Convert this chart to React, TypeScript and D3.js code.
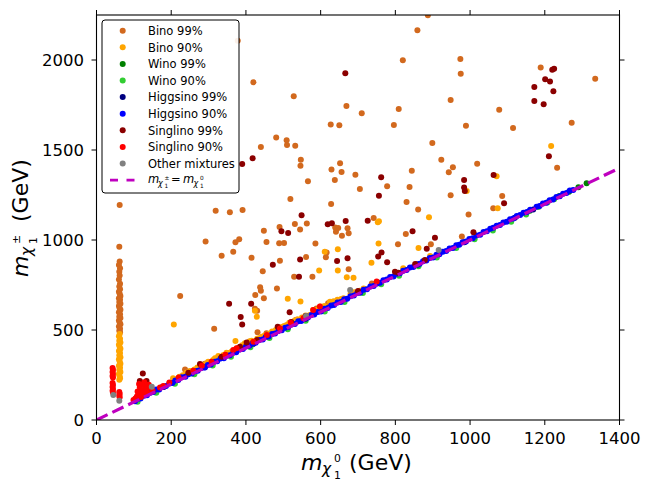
import React from 'react';
import * as d3 from 'd3';

type P = [number, number];

const xTicks = [0, 200, 400, 600, 800, 1000, 1200, 1400];
const yTicks = [0, 500, 1000, 1500, 2000];

const bino99: P[] = [
  [887, 2248], [859, 2165], [420, 1876], [820, 1998], [974, 2005], [975, 1924], [528, 1798], [669, 1744],
  [710, 1704], [809, 1728], [948, 1778], [1078, 1724], [1189, 1959], [1335, 1896], [1272, 1652], [627, 1641],
  [650, 1637], [796, 1639], [989, 1635], [1115, 1622], [481, 1570], [509, 1554], [510, 1528], [532, 1524],
  [440, 1517], [899, 1539], [547, 1446], [546, 1413], [652, 1426], [629, 1391], [656, 1378], [638, 1333],
  [566, 1326], [693, 1363], [705, 1283], [778, 1298], [844, 1385], [838, 1294], [923, 1446], [954, 1404],
  [943, 1376], [1019, 1424], [948, 1248], [1086, 1244], [1233, 1402], [519, 1228], [378, 2107],
  [628, 1200], [830, 1211], [861, 1170], [996, 1141], [1062, 1176], [319, 1163], [357, 1154], [391, 1167],
  [490, 1072], [531, 1089], [563, 1091], [545, 1059], [448, 1052], [292, 991], [372, 987], [382, 1004],
  [455, 989], [489, 982], [502, 983], [586, 980], [639, 1070], [647, 1067], [672, 1065], [675, 1037],
  [641, 1046], [657, 1024], [742, 1122], [335, 913], [366, 935], [415, 902], [491, 885], [561, 906],
  [614, 904], [445, 826], [529, 796], [578, 796], [675, 837], [616, 930], [483, 730], [438, 737],
  [440, 718], [425, 694], [448, 676], [424, 618], [430, 607], [315, 507], [807, 976], [828, 1033],
  [895, 976], [978, 1019], [224, 689], [533, 556], [589, 620], [237, 281], [431, 487], [737, 759],
  [290, 312], [455, 482], [620, 648], [150, 168],
  // column near the Higgs funnel
  [62, 1194], [61, 963], [62, 880], [60, 861], [63, 843], [61, 824], [62, 803], [60, 781], [63, 757],
  [61, 741], [63, 726], [60, 713], [62, 702], [64, 689], [60, 677], [63, 668], [61, 655], [64, 646],
  [60, 633], [62, 621], [64, 612], [60, 598], [63, 587], [61, 574], [64, 566], [60, 553], [62, 541],
  [64, 532], [60, 519], [63, 507], [61, 496], [63, 487],
];

const bino90: P[] = [
  [1217, 1522], [1071, 1354], [991, 1272], [890, 1126], [753, 1098], [756, 1104], [611, 935], [646, 948],
  [646, 830], [596, 830], [670, 793], [688, 790], [755, 981], [736, 874], [862, 956], [512, 674],
  [546, 659], [424, 607], [429, 574], [372, 439], [207, 531], [1074, 1176],
  [210, 226], [231, 248], [299, 324], [317, 343], [326, 356], [340, 361], [348, 374], [357, 374],
  [397, 426], [442, 463], [464, 481], [509, 528], [571, 583], [580, 611], [625, 657], [661, 676],
  [705, 718], [821, 843], [893, 911], [250, 272], [270, 292], [285, 305], [332, 350], [378, 400],
  [410, 438], [430, 452], [480, 500], [495, 516], [530, 552], [550, 570], [600, 630], [645, 668],
  [680, 700], [205, 232], [222, 240], [240, 262], [262, 280], [278, 300], [295, 315], [312, 334],
  [320, 342], [352, 368], [362, 380], [385, 405], [390, 415], [403, 420], [415, 440], [437, 455],
  [450, 470], [470, 492], [486, 505], [502, 522], [516, 540], [538, 560], [560, 580], [590, 612],
  [610, 633], [635, 660], [655, 672], [690, 710], [715, 730],
  // column
  [62, 478], [60, 465], [63, 452], [61, 440], [64, 431], [60, 418], [62, 405], [64, 396], [60, 383],
  [63, 372], [61, 360], [64, 349], [60, 337], [62, 326], [64, 313], [60, 302], [63, 290], [61, 279],
  [64, 266], [60, 255], [62, 243], [63, 232], [61, 224],
];

const wino99: P[] = [
  [1239, 1244], [1312, 1315], [1290, 1293], [1265, 1268], [1160, 1163],
];

const wino90: P[] = [
  [1207, 1209], [1225, 1226], [1183, 1184],
  [110, 102], [160, 152], [210, 202], [262, 254], [311, 303], [360, 352], [412, 404], [463, 455],
  [512, 504], [560, 552], [611, 603], [664, 656], [713, 705], [762, 754], [810, 802], [862, 854],
  [911, 903], [963, 955], [1012, 1004], [1061, 1053], [1110, 1102], [1150, 1142],
];

const higgsino99: P[] = [
  [1169, 1170], [1120, 1123], [985, 988], [860, 862], [705, 708], [560, 563], [420, 423], [290, 293], [180, 183],
];

const higgsino90: P[] = [
  [103, 104], [118, 120], [135, 137], [152, 155], [168, 170], [186, 189], [203, 205], [219, 222],
  [238, 240], [255, 258], [271, 274], [290, 292], [306, 309], [323, 326], [341, 343], [357, 360],
  [374, 377], [392, 394], [409, 412], [426, 429], [445, 447], [461, 464], [478, 481], [496, 498],
  [513, 516], [531, 534], [548, 550], [566, 569], [583, 586], [601, 603], [619, 622], [636, 639],
  [654, 656], [671, 674], [689, 692], [706, 709], [724, 726], [742, 745], [759, 762], [777, 780],
  [795, 797], [812, 815], [830, 833], [848, 850], [865, 868], [883, 886], [901, 903], [918, 921],
  [936, 939], [954, 956], [971, 974], [989, 992], [1007, 1010], [1027, 1029], [1045, 1048], [1062, 1068],
  [1080, 1083], [1098, 1102], [1116, 1119], [1134, 1139], [1152, 1155], [1186, 1189], [1204, 1207],
  [1222, 1225], [1240, 1243], [1258, 1261], [1276, 1278],
  [111, 118], [127, 135], [144, 152], [160, 169], [177, 185], [195, 203], [211, 219], [228, 237],
  [246, 254], [263, 271], [281, 289], [298, 306], [315, 323], [332, 341], [349, 357], [366, 374],
  [383, 391], [400, 409], [418, 426], [436, 444], [453, 461], [470, 478], [487, 495], [505, 513],
  [522, 530], [540, 548], [557, 565], [575, 583], [592, 600], [610, 618], [628, 636], [645, 653],
  [663, 671], [680, 688], [698, 706], [715, 723], [733, 741], [751, 759], [768, 776], [786, 794],
  [804, 812], [821, 829], [839, 847], [857, 865], [874, 882], [892, 900], [910, 918], [927, 935],
  [945, 953], [963, 971], [980, 988], [998, 1006], [1017, 1025], [1036, 1044], [1054, 1062], [1071, 1079],
  [1089, 1097], [1107, 1115], [1125, 1133], [1143, 1151], [1161, 1168], [1178, 1185], [1195, 1203],
  [1213, 1221], [1231, 1239], [1249, 1257], [1267, 1275],
];

const singlino99: P[] = [
  [666, 1926], [418, 1454], [762, 1348], [756, 1246], [984, 1333], [984, 1291], [986, 1272], [1063, 1361],
  [1172, 1850], [1172, 1772], [1201, 1893], [1214, 1880], [1220, 1946], [1225, 1952], [1223, 1826],
  [1197, 1754], [1211, 1465], [390, 1422], [549, 1137], [619, 1087], [630, 1093], [667, 1106], [726, 1107],
  [495, 1048], [513, 1039], [846, 1048], [906, 1013], [1009, 1043], [763, 931], [754, 909], [778, 876],
  [884, 952], [672, 898], [644, 883], [545, 891], [472, 863], [542, 796], [355, 646], [414, 646],
  [386, 572], [390, 531], [517, 598], [485, 518], [521, 544], [1091, 1204],
  [124, 259], [116, 217], [134, 217], [246, 263], [277, 311], [384, 407], [402, 430], [429, 444],
  [799, 824], [808, 818], [853, 867], [879, 889], [335, 352], [560, 578], [700, 716],
];

const singlino90: P[] = [
  [43, 289], [44, 278], [43, 266], [44, 255], [43, 244], [44, 236], [43, 206], [44, 195], [43, 183],
  [44, 172], [43, 162], [44, 153], [61, 156], [62, 146], [61, 136], [62, 126],
  [108, 130], [112, 140], [118, 150], [122, 138], [126, 160], [130, 172], [116, 182], [124, 196],
  [132, 188], [136, 150], [128, 145], [120, 165], [114, 200], [128, 210], [138, 180], [134, 162],
  [110, 158], [140, 196], [119, 128], [104, 120],
  [99, 111], [170, 181], [179, 189], [259, 274], [282, 302], [308, 324], [366, 389], [375, 398],
  [420, 435], [456, 472], [491, 509], [554, 565], [580, 611], [598, 630], [750, 769], [150, 162],
  [195, 208], [220, 236], [345, 362], [520, 540],
];

const otherMix: P[] = [
  [45, 139], [61, 107], [148, 185], [679, 722], [561, 578], [916, 944],
];

const seriesLabels = [
  'Bino 99%', 'Bino 90%', 'Wino 99%', 'Wino 90%', 'Higgsino 99%', 'Higgsino 90%',
  'Singlino 99%', 'Singlino 90%', 'Other mixtures',
];
const seriesColors = [
  '#d2691e', '#ffa500', '#008000', '#32cd32', '#000080', '#0000ff', '#8b0000', '#ff0000', '#808080',
];
const seriesData = [bino99, bino90, wino99, wino90, higgsino99, higgsino90, singlino99, singlino90, otherMix];

const diagonal: P[] = [[0, 0], [1400, 1400]];

const FONT = "'DejaVu Sans', sans-serif";

export default function App() {
  const W = 654, H = 491;
  const left = 96.5, right = 619.5, top = 15, bottom = 420;
  const x = d3.scaleLinear().domain([0, 1400]).range([left, right]);
  const y = d3.scaleLinear().domain([0, 2250]).range([bottom, top]);
  const line = d3.line<P>().x(d => x(d[0])).y(d => y(d[1]));
  const tick = 5;

  const legX = 102, legY = 20, rowH = 16.6;

  return (
    <svg width={W} height={H} style={{ position: 'absolute', left: 0, top: 0, background: '#fff' }}
      fontFamily={FONT}>
      <defs>
        <clipPath id="plotclip">
          <rect x={left} y={top} width={right - left} height={bottom - top} />
        </clipPath>
      </defs>
      <rect x={0} y={0} width={W} height={H} fill="#fff" />
      <g clipPath="url(#plotclip)">
        {seriesData.map((data, si) => (
          <g key={si} fill={seriesColors[si]}>
            {data.map((d, i) => (
              <circle key={i} cx={x(d[0])} cy={y(d[1])} r={3} />
            ))}
          </g>
        ))}
        <path d={line(diagonal) || ''} fill="none" stroke="#bf00bf" strokeWidth={3.2} strokeDasharray="12.3,5.3" />
      </g>
      {/* frame */}
      <rect x={left} y={top} width={right - left} height={bottom - top} fill="none" stroke="#000" strokeWidth={1.1} />
      {/* ticks */}
      {xTicks.map(t => (
        <g key={'x' + t}>
          <line x1={x(t)} x2={x(t)} y1={bottom} y2={bottom + tick} stroke="#000" />
          <line x1={x(t)} x2={x(t)} y1={top} y2={top - tick} stroke="#000" />
          <text x={x(t)} y={444} fontSize={16.5} textAnchor="middle" fill="#000">{t}</text>
        </g>
      ))}
      {yTicks.map(t => (
        <g key={'y' + t}>
          <line x1={left} x2={left - tick} y1={y(t)} y2={y(t)} stroke="#000" />
          <line x1={right} x2={right + tick} y1={y(t)} y2={y(t)} stroke="#000" />
          <text x={84} y={y(t) + 6} fontSize={16.5} textAnchor="end" fill="#000">{t}</text>
        </g>
      ))}
      {/* x label */}
      <g transform="translate(301,470)" fill="#000">
        <text x={0} y={0} fontSize={22} fontStyle="italic">m</text>
        <text x={21} y={4} fontSize={15.4} fontStyle="italic">χ</text>
        <text x={33} y={-8} fontSize={10.8}>0</text>
        <text x={33} y={9} fontSize={10.8}>1</text>
        <text x={48} y={0} fontSize={22}>(GeV)</text>
      </g>
      {/* y label */}
      <g transform="translate(28,277) rotate(-90)" fill="#000">
        <text x={0} y={0} fontSize={22} fontStyle="italic">m</text>
        <text x={21} y={4} fontSize={15.4} fontStyle="italic">χ</text>
        <text x={33} y={-8} fontSize={10.8}>±</text>
        <text x={33} y={9} fontSize={10.8}>1</text>
        <text x={55} y={0} fontSize={22}>(GeV)</text>
      </g>
      {/* legend */}
      <rect x={legX} y={legY} width={137} height={173} rx={3} fill="#fff" fillOpacity={0.9} stroke="#000" strokeWidth={1} />
      {seriesLabels.map((lab, i) => (
        <g key={lab}>
          <circle cx={122.7} cy={30.7 + i * rowH} r={3} fill={seriesColors[i]} />
          <text x={148} y={30.7 + i * rowH + 4.2} fontSize={11.5} fill="#000">{lab}</text>
        </g>
      ))}
      <line x1={110} x2={135} y1={30.7 + 9 * rowH} y2={30.7 + 9 * rowH} stroke="#bf00bf" strokeWidth={2.6} strokeDasharray="8,8.5" />
      <g transform={`translate(148,${30.7 + 9 * rowH + 3})`} fill="#000">
        <text x={0} y={0} fontSize={11.5} fontStyle="italic">m</text>
        <text x={10} y={2.5} fontSize={8} fontStyle="italic">χ</text>
        <text x={16.5} y={-3.5} fontSize={5.8}>±</text>
        <text x={16.5} y={5} fontSize={5.8}>1</text>
        <text x={23} y={0} fontSize={11.5}>=</text>
        <text x={35} y={0} fontSize={11.5} fontStyle="italic">m</text>
        <text x={45.5} y={2.5} fontSize={8} fontStyle="italic">χ</text>
        <text x={52} y={-3.5} fontSize={5.8}>0</text>
        <text x={52} y={5} fontSize={5.8}>1</text>
      </g>
    </svg>
  );
}
